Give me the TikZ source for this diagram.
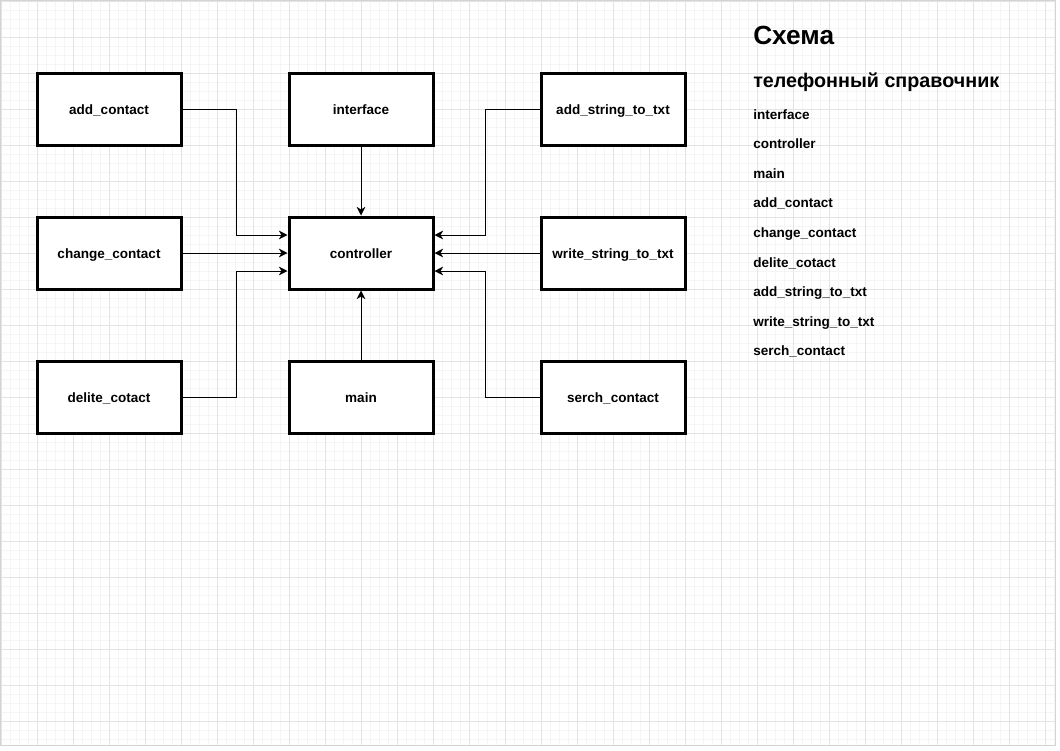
\documentclass[tikz,border=0pt]{standalone}
\usepackage{fontspec}
\setmainfont{Liberation Sans}
\usetikzlibrary{arrows.meta,calc}
\definecolor{minorgrid}{RGB}{245,245,245}
\definecolor{majorgrid}{RGB}{228,228,228}
\definecolor{pageedge}{RGB}{212,212,212}
\begin{document}
\begin{tikzpicture}[x=0.75pt,y=-0.75pt,
  box/.style={draw=black,line width=2.25pt,fill=white,minimum width=108pt,minimum height=54pt,inner sep=0pt,
    text height=9pt,text depth=1pt,
    font=\bfseries\fontsize{10.15}{12}\selectfont},
  conn/.style={draw=black,line width=0.75pt,-{Stealth[length=6.5pt,width=6.5pt,inset=2pt]}},
  listitem/.style={anchor=base west,inner sep=0pt,font=\bfseries\fontsize{10.15}{12}\selectfont},
]
\useasboundingbox (0,0) rectangle (1060,750);
\fill[white] (0,0) rectangle (1060,750);
% grid
\foreach \i in {0,...,117} {\draw[minorgrid,line width=0.75pt] ({1+9*\i},1) -- ({1+9*\i},745);}
\foreach \i in {0,...,82} {\draw[minorgrid,line width=0.75pt] (1,{1+9*\i}) -- (1055,{1+9*\i});}
\foreach \i in {0,...,29} {\draw[majorgrid,line width=0.75pt] ({1+36*\i},1) -- ({1+36*\i},745);}
\foreach \i in {0,...,20} {\draw[majorgrid,line width=0.75pt] (1,{1+36*\i}) -- (1055,{1+36*\i});}
\draw[pageedge,line width=0.9pt] (0.5,0.5) rectangle (1055.5,745.5);

% boxes
\node[box] (ac) at (109,109) {add\_contact};
\node[box] (if) at (361,109) {interface};
\node[box] (as) at (613,109) {add\_string\_to\_txt};
\node[box] (cc) at (109,253) {change\_contact};
\node[box] (ctrl) at (361,253) {controller};
\node[box] (ws) at (613,253) {write\_string\_to\_txt};
\node[box] (dc) at (109,397) {delite\_cotact};
\node[box] (mn) at (361,397) {main};
\node[box] (sc) at (613,397) {serch\_contact};

% connectors
\draw[conn] (ac.east) -- ++(54,0) |- ($(ctrl.west)+(0,-18)$);
\draw[conn] (cc.east) -- (ctrl.west);
\draw[conn] (dc.east) -- ++(54,0) |- ($(ctrl.west)+(0,18)$);
\draw[conn] (if.south) -- (ctrl.north);
\draw[conn] (mn.north) -- (ctrl.south);
\draw[conn] (as.west) -- ++(-54,0) |- ($(ctrl.east)+(0,-18)$);
\draw[conn] (ws.west) -- (ctrl.east);
\draw[conn] (sc.west) -- ++(-54,0) |- ($(ctrl.east)+(0,18)$);

% side text
\node[anchor=base west,inner sep=0pt,font=\bfseries\fontsize{19.7}{22}\selectfont] (t1) at (753,44) {Схема};
\node[anchor=base west,inner sep=0pt,font=\bfseries\fontsize{14.8}{18}\selectfont] (t2) at (753,87) {телефонный справочник};
\node[listitem] (l1) at (753,119) {interface};
\node[listitem] (l2) at (753,148.6) {controller};
\node[listitem] (l3) at (753,178.2) {main};
\node[listitem] (l4) at (753,207.8) {add\_contact};
\node[listitem] (l5) at (753,237.4) {change\_contact};
\node[listitem] (l6) at (753,267) {delite\_cotact};
\node[listitem] (l7) at (753,296.6) {add\_string\_to\_txt};
\node[listitem] (l8) at (753,326.2) {write\_string\_to\_txt};
\node[listitem] (l9) at (753,355.8) {serch\_contact};
\end{tikzpicture}
\end{document}
